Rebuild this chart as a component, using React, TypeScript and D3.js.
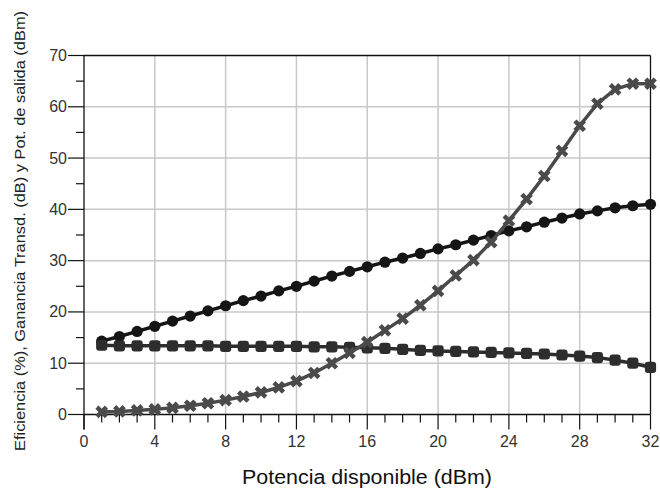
import React from 'react';
import * as d3 from 'd3';

// Potencia disponible (dBm)
const potencia = [1, 2, 3, 4, 5, 6, 7, 8, 9, 10, 11, 12, 13, 14, 15, 16, 17, 18, 19, 20, 21, 22, 23, 24, 25, 26, 27, 28, 29, 30, 31, 32];
// Pot. de salida (dBm)
const potSalida = [14.3, 15.2, 16.2, 17.2, 18.2, 19.2, 20.2, 21.2, 22.2, 23.1, 24.1, 25.0, 26.0, 27.0, 27.9, 28.8, 29.7, 30.5, 31.4, 32.3, 33.1, 34.0, 34.9, 35.8, 36.6, 37.5, 38.3, 39.1, 39.7, 40.3, 40.7, 41.0];
// Ganancia Transd. (dB)
const ganancia = [13.5, 13.4, 13.4, 13.4, 13.4, 13.4, 13.4, 13.3, 13.3, 13.3, 13.3, 13.3, 13.2, 13.2, 13.1, 13.0, 12.9, 12.7, 12.5, 12.4, 12.3, 12.2, 12.1, 12.0, 11.9, 11.8, 11.6, 11.4, 11.1, 10.6, 10.0, 9.2];
// Eficiencia (%)
const eficiencia = [0.5, 0.6, 0.8, 1.0, 1.3, 1.7, 2.2, 2.8, 3.5, 4.3, 5.3, 6.5, 8.1, 10.0, 12.0, 14.1, 16.4, 18.7, 21.3, 24.1, 27.1, 30.1, 33.6, 37.8, 42.0, 46.5, 51.4, 56.3, 60.6, 63.4, 64.5, 64.5];

const xTicks = [0, 4, 8, 12, 16, 20, 24, 28, 32];
const yTicks = [0, 10, 20, 30, 40, 50, 60, 70];

const width = 660;
const height = 491;
const margin = { top: 55.5, right: 9.5, bottom: 76.5, left: 84 };

const App = () => {
  const x = d3.scaleLinear().domain([0, 32]).range([margin.left, width - margin.right]);
  const y = d3.scaleLinear().domain([0, 70]).range([height - margin.bottom, margin.top]);

  const line = d3.line<number>()
    .x((d, i) => x(potencia[i]))
    .y(d => y(d));

  const x0 = x(0), x1 = x(32), y0 = y(0), y1 = y(70);
  const xMinor = d3.range(0, 33, 1);
  const yMinor = d3.range(0, 71, 5);

  const crossPath = d3.symbol().type(d3.symbolCross).size(100)()!;
  const font = 'Liberation Sans, Arial, sans-serif';

  return (
    <svg width={width} height={height} style={{ position: 'absolute', left: 0, top: 0, background: '#fff' }}>
      {/* rejilla */}
      <g stroke="#c8c8c8" strokeWidth={1.5}>
        {xTicks.filter(t => t > 0 && t < 32).map(t => (
          <line key={'gx' + t} x1={x(t)} x2={x(t)} y1={y0} y2={y1} />
        ))}
        {yTicks.filter(t => t > 0 && t < 70).map(t => (
          <line key={'gy' + t} x1={x0} x2={x1} y1={y(t)} y2={y(t)} />
        ))}
      </g>

      {/* marco */}
      <g stroke="#111" strokeWidth={1.3}>
        <line x1={x0} x2={x1} y1={y1} y2={y1} />
        <line x1={x1} x2={x1} y1={y1} y2={y0} />
        <line x1={x0} x2={x1} y1={y0} y2={y0} />
        <line x1={x0} x2={x0} y1={y1} y2={y0 + 15} />
      </g>

      {/* ticks */}
      <g stroke="#111" strokeWidth={1.2}>
        {xMinor.map(t => (
          <line key={'tx' + t} x1={x(t)} x2={x(t)} y1={y0} y2={y0 + (t % 4 === 0 ? 15 : 8)} />
        ))}
        {yMinor.map(t => (
          <line key={'ty' + t} x1={x0} x2={x0 - (t % 10 === 0 ? 16 : 8)} y1={y(t)} y2={y(t)} />
        ))}
      </g>

      <g fontFamily={font} fontSize={16} fill="#333">
        {xTicks.map(t => (
          <text key={'lx' + t} x={x(t)} y={y0 + 32} textAnchor="middle">{t}</text>
        ))}
        {yTicks.map(t => (
          <text key={'ly' + t} x={x0 - 17} y={y(t) + 5.5} textAnchor="end">{t}</text>
        ))}
      </g>

      {/* series */}
      <path d={line(potSalida)!} fill="none" stroke="#151515" strokeWidth={3.5} />
      {potSalida.map((v, i) => (
        <circle key={'a' + i} cx={x(potencia[i])} cy={y(v)} r={5.6} fill="#151515" />
      ))}

      <path d={line(ganancia)!} fill="none" stroke="#2d2d2d" strokeWidth={3.5} />
      {ganancia.map((v, i) => (
        <rect key={'b' + i} x={x(potencia[i]) - 5.6} y={y(v) - 5.6} width={11.2} height={11.2} rx={3} fill="#2d2d2d" />
      ))}

      <path d={line(eficiencia)!} fill="none" stroke="#4a4a4a" strokeWidth={3.5} />
      {eficiencia.map((v, i) => (
        <path key={'c' + i} d={crossPath} transform={`translate(${x(potencia[i])},${y(v)}) rotate(45)`} fill="#4a4a4a" />
      ))}

      {/* titulos de ejes */}
      <text x={367} y={484} textAnchor="middle" fontFamily={font} fontSize={19.5}
        textLength={250} lengthAdjust="spacingAndGlyphs" fill="#111">Potencia disponible (dBm)</text>
      <text transform="translate(25,231) rotate(-90)" textAnchor="middle" fontFamily={font} fontSize={15}
        textLength={440} lengthAdjust="spacingAndGlyphs" fill="#222">
        Eficiencia (%), Ganancia Transd. (dB) y Pot. de salida (dBm)
      </text>
    </svg>
  );
};

export default App;
